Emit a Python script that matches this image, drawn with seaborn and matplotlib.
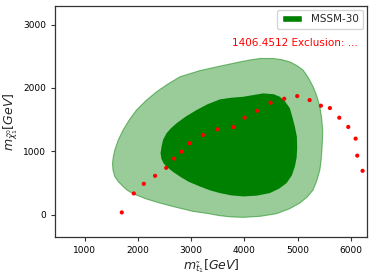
import matplotlib
matplotlib.use("Agg")
import matplotlib.pyplot as plt
import seaborn as sns
import pandas as pd
from matplotlib.patches import Patch

# red exclusion points (1406.4512)
excl_x = [1695, 1921, 2109, 2321, 2529, 2679, 2817, 2968, 3218, 3487, 3788, 4002,
          4233, 4491, 4747, 4991, 5224, 5436, 5605, 5781, 5950, 6088, 6119, 6219]
excl_y = [36, 335, 487, 613, 739, 885, 995, 1127, 1258, 1347, 1384, 1530,
          1640, 1766, 1829, 1871, 1808, 1719, 1682, 1530, 1384, 1200, 932, 692]

# outer (2 sigma) region outline
outer_x = [1521, 1530, 1564, 1630, 1720, 1800, 1908, 2150, 2410, 2700, 3036, 3300, 3538,
           3750, 3976, 4300, 4603, 4850, 5041, 5180, 5291, 5360, 5417, 5440, 5455,
           5465, 5470, 5450, 5417, 5360, 5291, 5200, 5103, 4990, 4853, 4700, 4539,
           4289, 4100, 3914, 3538, 3150, 2786, 2560, 2348, 2150, 1972, 1840, 1720,
           1630, 1564, 1535]
outer_y = [813, 700, 602, 520, 445, 385, 330, 250, 184, 120, 52, 20, -16,
           -35, -42, -25, 16, 95, 184, 280, 393, 540, 708, 860, 1022,
           1180, 1336, 1520, 1703, 1870, 2017, 2160, 2280, 2350, 2410, 2445, 2464,
           2464, 2440, 2410, 2343, 2270, 2175, 2060, 1939, 1800, 1651, 1500, 1336,
           1180, 1022, 910]

# inner (1 sigma) region outline
inner_x = [2423, 2440, 2480, 2536, 2650, 2786, 2950, 3162, 3350, 3538, 3750, 3976,
           4230, 4477, 4650, 4791, 4890, 4947, 4980, 4990, 4985, 4947, 4900, 4853,
           4760, 4665, 4550, 4352, 4150, 3976, 3750, 3538, 3300, 3100, 2900, 2724,
           2620, 2536, 2470, 2442]
inner_y = [970, 880, 810, 759, 680, 602, 520, 445, 385, 341, 305, 288,
           300, 341, 410, 498, 620, 759, 900, 1053, 1230, 1388, 1540, 1678,
           1790, 1860, 1900, 1913, 1885, 1860, 1845, 1819, 1740, 1651, 1550, 1442,
           1365, 1285, 1180, 1074]

xlim = (440, 6300)
ylim = (-350, 3290)
xticks = [1000, 2000, 3000, 4000, 5000, 6000]
yticks = [0, 1000, 2000, 3000]

sns.set_style("ticks")
plt.rcParams['font.family'] = ['DejaVu Sans']

fig = plt.figure(figsize=(3.74, 2.79), dpi=100)
ax = fig.add_axes([0.147, 0.151, 0.834, 0.827])

ax.fill(outer_x, outer_y, facecolor=(0, 0.5, 0, 0.4), edgecolor=(0, 0.5, 0, 0.5), linewidth=0.8)
ax.fill(inner_x, inner_y, facecolor='green', edgecolor='none')

df = pd.DataFrame({"x": excl_x, "y": excl_y})
sns.scatterplot(data=df, x="x", y="y", ax=ax, color='red', s=9, edgecolor='none', zorder=3)

ax.set_xlim(*xlim)
ax.set_ylim(*ylim)
ax.set_xticks(xticks)
ax.set_yticks(yticks)
ax.tick_params(labelsize=6.5, length=3, width=0.8, colors='#333333', labelcolor='black')
for s in ax.spines.values():
    s.set_color('#333333')
    s.set_linewidth(0.9)

ax.set_xlabel(r"$m_{\tilde{t}_1}[GeV]$", fontsize=9, labelpad=2)
ax.set_ylabel(r"$m_{\tilde{\chi}^0_1}[GeV]$", fontsize=9, labelpad=2)

ax.legend(handles=[Patch(facecolor='green', label='MSSM-30')], loc='upper right',
          fontsize=7.5, frameon=True, borderaxespad=0.4)
ax.text(0.972, 0.84, "1406.4512 Exclusion: ...", color='red', fontsize=7.5,
        ha='right', va='center', transform=ax.transAxes)

fig.savefig("out.png", dpi=100)
